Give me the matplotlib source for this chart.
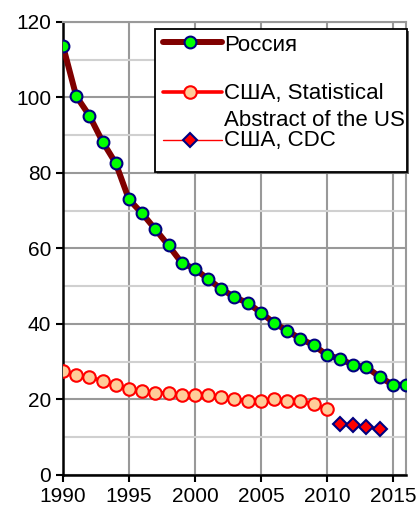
import numpy as np
import matplotlib
matplotlib.use("Agg")
import matplotlib.pyplot as plt
from matplotlib.lines import Line2D
from matplotlib.patches import Rectangle
from matplotlib.ticker import MultipleLocator

plt.rcParams['font.family'] = ['Liberation Sans', 'DejaVu Sans']

# Data
years_ru = list(range(1990, 2017))
russia = [113.7, 100.4, 95.2, 88.3, 82.6, 73.0, 69.3, 65.1, 60.8, 56.2,
          54.6, 51.9, 49.3, 47.1, 45.6, 43.0, 40.3, 38.2, 36.1, 34.4,
          31.8, 30.8, 29.1, 28.6, 26.0, 23.9, 23.9]

years_us_sa = list(range(1990, 2011))
us_stat_abstract = [27.6, 26.5, 26.0, 24.9, 23.8, 22.9, 22.3, 21.8, 21.8, 21.3,
                    21.3, 21.2, 20.7, 20.1, 19.7, 19.7, 20.1, 19.7, 19.7, 18.7,
                    17.6]

years_us_cdc = [2011, 2012, 2013, 2014]
us_cdc = [13.6, 13.2, 12.6, 12.1]

labels = ["Россия", "США, Statistical\nAbstract of the US", "США, CDC"]
xticks = [1990, 1995, 2000, 2005, 2010, 2015]
yticks = [0, 20, 40, 60, 80, 100, 120]

style_ru = dict(color='#800000', lw=4.3, marker='o', ms=8.5,
                mfc='#00FF00', mec='#000080', mew=1.5)
style_sa = dict(color='#FF0000', lw=2.6, marker='o', ms=9,
                mfc='#FFCC99', mec='#FF0000', mew=1.5)
style_cdc = dict(color='#FF0000', lw=1.0, marker='D', ms=7,
                 mfc='#FF0000', mec='#000080', mew=1.5)

fig = plt.figure(figsize=(4.17, 5.09), dpi=100)
ax = fig.add_axes([0.151, 0.0668, 0.8226, 0.89])

ax.plot(years_ru, russia, zorder=4, **style_ru)
ax.plot(years_us_sa, us_stat_abstract, zorder=3, **style_sa)
ax.plot(years_us_cdc, us_cdc, zorder=3, **style_cdc)

ax.set_xlim(1990, 2016)
ax.set_ylim(0, 120)
ax.set_xticks(xticks)
ax.set_yticks(yticks)
ax.yaxis.set_minor_locator(MultipleLocator(10))
ax.tick_params(axis='both', which='major', labelsize=15, length=5,
               width=1.5, direction='out', color='black')
ax.tick_params(axis='y', which='minor', length=0)
ax.grid(True, which='major', color='#999999', lw=1.5, zorder=0)
ax.grid(True, which='minor', axis='y', color='#d0d0d0', lw=1.5, zorder=0)
ax.set_axisbelow(True)

for side in ['left', 'bottom']:
    ax.spines[side].set_color('black')
    ax.spines[side].set_linewidth(1.8)
for side in ['right', 'top']:
    ax.spines[side].set_color('#999999')
    ax.spines[side].set_linewidth(1.5)

# Excel-style legend box (handle aligned with first line of each label)
x0, x1 = 0.268, 1.003
y0, y1 = 0.669, 0.9845
ax.add_patch(Rectangle((x0 + 0.005, y0 - 0.004), x1 - x0, y1 - y0,
                       transform=ax.transAxes, facecolor='#666666',
                       edgecolor='none', zorder=9, clip_on=False))
ax.add_patch(Rectangle((x0, y0), x1 - x0, y1 - y0, transform=ax.transAxes,
                       facecolor='white', edgecolor='black', lw=1.3,
                       zorder=10, clip_on=False))

hx = [0.292, 0.463]
mx = 0.370
tx = 0.470
fs_leg = 16
entries = [(0.955, style_ru), (0.846, style_sa), (0.739, style_cdc)]
for (hy, st) in entries:
    line_st = {k: v for k, v in st.items() if k not in ('marker', 'ms', 'mfc', 'mec', 'mew')}
    ax.add_line(Line2D(hx, [hy, hy], transform=ax.transAxes, zorder=11,
                       clip_on=False, solid_capstyle='round', **line_st))
    ax.add_line(Line2D([mx], [hy], transform=ax.transAxes, zorder=12,
                       clip_on=False, color=st['color'], lw=0,
                       marker=st['marker'], ms=st['ms'], mfc=st['mfc'],
                       mec=st['mec'], mew=st['mew']))

ax.text(tx, 0.949, labels[0], transform=ax.transAxes, fontsize=fs_leg,
        va='center', ha='left', zorder=13)
first, second = labels[1].split("\n")
ax.text(tx, 0.842, first, transform=ax.transAxes, fontsize=fs_leg,
        va='center', ha='left', zorder=13)
ax.text(tx, 0.782, second, transform=ax.transAxes, fontsize=fs_leg,
        va='center', ha='left', zorder=13)
ax.text(tx, 0.738, labels[2], transform=ax.transAxes, fontsize=fs_leg,
        va='center', ha='left', zorder=13)

fig.savefig('out.png', dpi=100)
